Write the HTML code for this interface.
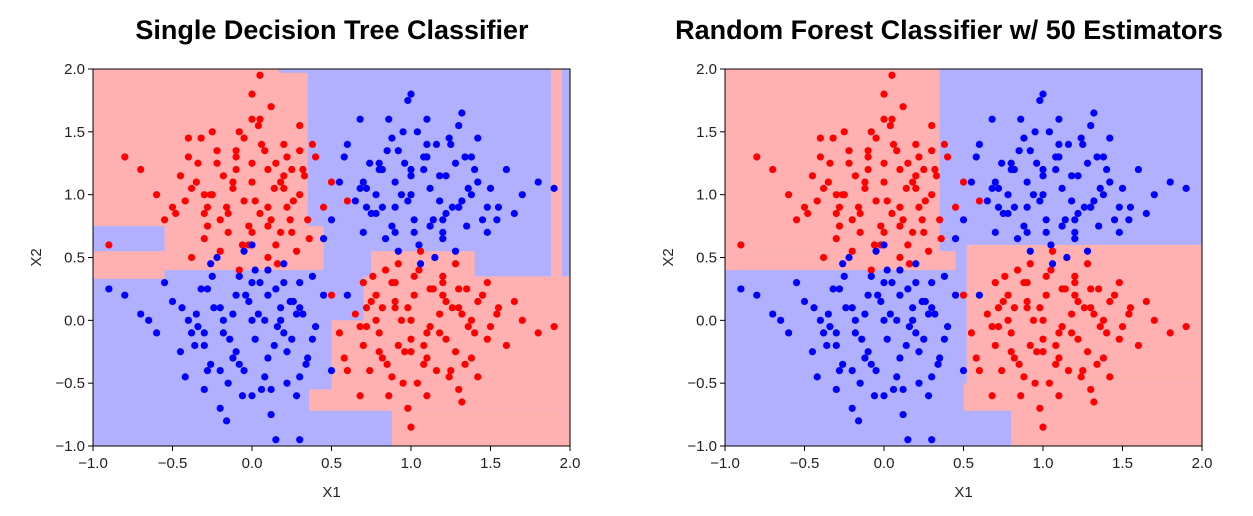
<!DOCTYPE html>
<html><head><meta charset="utf-8"><style>
body{margin:0;background:#fff;width:1253px;height:511px;overflow:hidden;font-family:"Liberation Sans",sans-serif}
</style></head><body>
<svg id="root" width="1253" height="511"></svg>
<script>
const redX=[-0.3,-0.1,0.1,0.2,-0.2,0.0,0.3,-0.4,-0.5,0.05,-0.15,0.25,0.35,-0.25,-0.05,0.15,-0.35,0.4,-0.6,0.1,-0.1,0.0,-0.2,0.2,0.3,-0.3,-0.45,0.05,-0.7,-0.8,0.45,0.5,-0.05,0.15,-0.25,0.1,-0.15,0.25,-0.55,0.0,0.12,-0.32,0.33,-0.12,0.22,-0.02,-0.42,0.08,0.18,-0.22,-0.9,0.6,0.05,-0.28,0.28,-0.08,0.38,-0.38,0.0,0.16,
-0.18,0.02,0.22,-0.38,0.12,-0.28,0.32,-0.08,0.18,-0.48,0.06,-0.12,0.26,-0.22,0.36,-0.02,0.14,-0.34,0.04,-0.16,0.24,-0.26,0.1,-0.06,0.3,-0.4,0.2,-0.1,0.0,-0.3,
1.0,1.2,0.8,1.1,0.9,1.3,0.7,1.4,1.05,0.95,1.25,0.75,1.15,0.85,1.35,0.65,1.5,0.6,1.45,1.0,1.1,0.9,1.2,0.8,1.3,0.7,1.6,0.55,1.55,1.02,1.18,0.88,1.28,0.78,1.38,0.68,1.08,0.98,1.7,0.5,1.8,1.9,1.22,0.92,1.12,0.82,1.42,0.72,1.32,1.0,1.65,0.58,1.48,1.06,0.96,1.26,0.86,1.16,1.36,0.76,
0.98,1.18,0.78,1.38,1.08,0.88,1.28,0.68,1.48,1.02,1.22,0.82,1.12,0.92,1.32,0.72,1.42,1.04,0.94,1.24,0.84,1.14,1.34,0.74,1.54,1.0,1.2,0.9,1.1,1.3];
const redY=[1.0,1.2,0.9,1.4,0.8,1.1,1.0,1.3,0.9,1.6,0.7,1.2,0.8,1.5,0.95,0.6,1.1,1.3,1.0,0.75,1.35,1.8,0.55,1.05,1.55,0.65,1.15,0.85,1.2,1.3,0.9,1.1,1.45,1.25,1.0,0.5,0.85,0.7,0.8,1.25,1.7,1.45,1.15,1.05,0.9,0.6,0.95,1.35,1.1,1.25,0.6,0.95,1.95,0.75,0.55,0.4,1.4,0.5,1.6,0.45,
1.15,0.95,1.3,1.05,0.8,0.9,1.2,1.5,0.7,0.85,1.4,1.1,0.95,1.35,0.65,0.75,1.05,1.25,1.55,0.9,0.8,1.0,1.2,0.6,1.35,1.45,1.15,1.3,0.7,0.85,
0.0,0.2,-0.1,-0.3,0.3,0.1,-0.2,-0.1,0.4,-0.5,-0.4,0.15,0.5,-0.35,0.25,0.05,-0.05,-0.4,0.2,-0.15,-0.6,0.1,0.35,-0.25,-0.55,0.3,-0.2,-0.1,0.1,0.2,0.05,-0.45,0.45,0.0,-0.3,-0.6,-0.2,-0.7,0.0,0.2,-0.1,-0.05,-0.15,0.45,0.25,0.1,-0.45,-0.05,-0.65,-0.85,0.15,-0.3,0.3,0.55,-0.25,0.1,-0.6,-0.4,-0.05,0.35,
0.1,-0.1,0.2,0.0,-0.35,0.3,-0.25,-0.05,-0.15,0.35,0.15,-0.3,-0.05,-0.2,0.05,0.1,0.15,-0.5,0.0,-0.45,0.4,0.25,-0.35,-0.4,0.05,-0.25,0.3,0.15,-0.1,0.25];
const blueX=[0.0,-0.2,0.2,-0.1,0.1,-0.3,0.3,-0.4,0.05,-0.05,0.15,-0.15,0.25,-0.25,0.35,-0.35,-0.5,0.4,-0.6,0.0,0.1,-0.1,0.2,-0.2,0.3,-0.3,-0.45,0.45,-0.7,0.5,-0.05,0.12,-0.12,0.22,-0.22,0.32,-0.32,0.02,-0.02,-0.8,-0.9,0.08,-0.08,0.18,-0.18,0.28,-0.28,-0.55,0.38,-0.38,0.15,0.3,-0.42,0.06,-0.16,0.26,-0.26,0.6,-0.65,0.0,
0.04,-0.14,0.24,-0.34,0.14,-0.24,0.34,-0.04,0.18,-0.44,0.08,-0.12,0.28,-0.2,0.38,0.0,0.16,-0.3,0.1,-0.18,0.22,-0.28,0.12,-0.08,0.3,-0.36,0.2,-0.06,0.02,-0.26,
1.0,1.2,0.8,1.1,0.9,1.3,0.7,1.4,1.05,0.95,1.25,0.75,1.15,0.85,1.35,0.65,1.5,0.6,1.45,1.0,1.1,0.9,1.2,0.8,1.3,0.7,1.6,0.55,1.55,1.02,1.18,0.88,1.28,0.78,1.38,0.68,1.08,0.98,1.7,0.5,1.8,1.9,1.22,0.92,1.12,0.82,1.42,0.72,1.32,1.0,1.65,0.58,1.48,1.06,0.96,1.26,0.86,1.16,1.36,0.45,
0.98,1.18,0.78,1.38,1.08,0.88,1.28,0.68,1.48,1.02,1.22,0.82,1.12,0.92,1.32,0.72,1.42,1.04,0.94,1.24,0.84,1.14,1.34,0.74,1.54,1.0,1.2,0.9,1.1,1.3];
const blueY=[0.0,0.1,-0.1,0.2,-0.3,-0.2,0.1,0.0,0.3,-0.4,0.25,-0.5,-0.15,0.35,-0.3,0.05,0.15,-0.05,-0.1,-0.6,0.4,-0.25,0.45,-0.7,0.3,-0.55,-0.25,0.2,0.05,-0.4,0.55,-0.75,0.05,-0.5,0.5,0.05,0.25,-0.15,0.15,0.2,0.25,0.0,-0.35,0.1,-0.1,-0.6,-0.4,0.3,0.35,-0.1,-0.95,-0.95,-0.45,-0.55,-0.8,0.15,0.45,0.2,0.0,0.6,
0.05,-0.15,0.15,-0.05,-0.2,0.1,-0.35,0.2,0.0,0.1,-0.45,-0.3,0.05,-0.4,-0.15,0.3,-0.05,-0.1,0.2,0.0,-0.25,0.25,-0.55,0.35,-0.45,-0.2,0.3,-0.6,0.4,-0.35,
1.0,0.8,1.2,1.3,0.7,0.9,1.1,1.2,0.6,1.5,1.4,0.85,0.5,1.35,0.75,0.95,1.05,1.4,0.8,1.15,1.6,0.9,0.65,1.25,1.55,0.7,1.2,1.1,0.9,0.8,0.95,1.45,0.55,1.0,1.3,1.6,1.2,1.75,1.0,0.8,1.1,1.05,1.15,0.55,0.75,0.9,1.45,1.05,1.65,1.8,0.85,1.3,0.7,0.45,1.25,0.9,1.6,1.4,1.05,0.65,
0.95,1.15,0.85,1.0,1.3,0.75,1.25,1.05,0.9,0.7,0.85,1.2,1.05,1.35,0.95,0.9,1.1,1.5,1.0,1.45,0.65,0.8,1.3,1.25,0.8,1.2,0.7,1.1,1.4,0.9];
const treeRed=[[-1,0.17,0.75,2],[0.17,0.35,0.6,1.97],[-0.55,0.45,0.4,0.75],[-1,-0.55,0.33,0.55],[0.7,2,-0.7,0.35],[0.75,1.4,0.35,0.55],[0.88,2,-1,-0.7],[0.36,0.88,-0.72,-0.55],[0.5,0.7,-0.55,0.0],[1.88,1.95,0.35,2]];
const forestRed=[[-1,0.35,0.55,2],[-1,0.45,0.4,0.55],[0.52,2,-0.5,0.6],[0.8,2,-1,-0.5],[0.5,0.8,-0.72,-0.5]];
const xTicks=["−1.0","−0.5","0.0","0.5","1.0","1.5","2.0"];
const yTicks=["−1.0","−0.5","0.0","0.5","1.0","1.5","2.0"];
const tickVals=[-1,-0.5,0,0.5,1,1.5,2];
const NS="http://www.w3.org/2000/svg";
const root=document.getElementById('root');
function mk(tag,attrs,parent){const e=document.createElementNS(NS,tag);for(const k in attrs)e.setAttribute(k,attrs[k]);parent.appendChild(e);return e;}
function plot(x0,title,rects,key,fs,tx){
  const W=477,top=69,H=377;
  const sx=v=>x0+(v+1)/3*W, sy=v=>top+(2-v)/3*H;
  const g=mk('g',{},root);
  
  
  const t=mk('text',{x:tx,y:39,'text-anchor':'middle','font-size':fs,'font-weight':'bold',fill:'#000'},g);
  t.textContent=title;
  
  
  const bg=mk('rect',{x:x0,y:top,width:W,height:H,fill:'#b0b0ff'},g);
  
  
  rects.forEach(r=>{
    const e=mk('rect',{x:sx(r[0]),y:sy(r[3]),width:sx(r[1])-sx(r[0]),height:sy(r[2])-sy(r[3]),fill:'#ffb0b0'},g);
    
    
  });
  redX.forEach((v,i)=>{const c=mk('circle',{cx:sx(v),cy:sy(redY[i]),r:3.6,fill:'#f00'},g);
    
    });
  blueX.forEach((v,i)=>{const c=mk('circle',{cx:sx(v),cy:sy(blueY[i]),r:3.6,fill:'#00f'},g);
    
    });
  const f=mk('rect',{x:x0,y:top,width:W,height:H,fill:'none',stroke:'#000','stroke-width':1},g);
  
  
  tickVals.forEach((v,i)=>{
    mk('line',{x1:sx(v),x2:sx(v),y1:top+H,y2:top+H+5,stroke:'#000'},g);
    const xt=mk('text',{x:sx(v),y:top+H+22,'text-anchor':'middle','font-size':15,fill:'#222'},g);
    xt.textContent=xTicks[i];
    
    
    mk('line',{x1:x0-5,x2:x0,y1:sy(v),y2:sy(v),stroke:'#000'},g);
    const yt=mk('text',{x:x0-8,y:sy(v)+5,'text-anchor':'end','font-size':15,fill:'#222'},g);
    yt.textContent=yTicks[i];
    
    
  });
  const xl=mk('text',{x:x0+W/2,y:497,'text-anchor':'middle','font-size':15,fill:'#222'},g);
  xl.textContent='X1';
  
  
  const yl=mk('text',{x:0,y:0,'text-anchor':'middle','font-size':15,fill:'#222',transform:`translate(${x0-52},${top+H/2}) rotate(-90)`},g);
  yl.textContent='X2';
  
  
}
plot(93,'Single Decision Tree Classifier',treeRed,'tree',27,332);
plot(725,'Random Forest Classifier w/ 50 Estimators',forestRed,'forest',27,949);
</script>
</body></html>
